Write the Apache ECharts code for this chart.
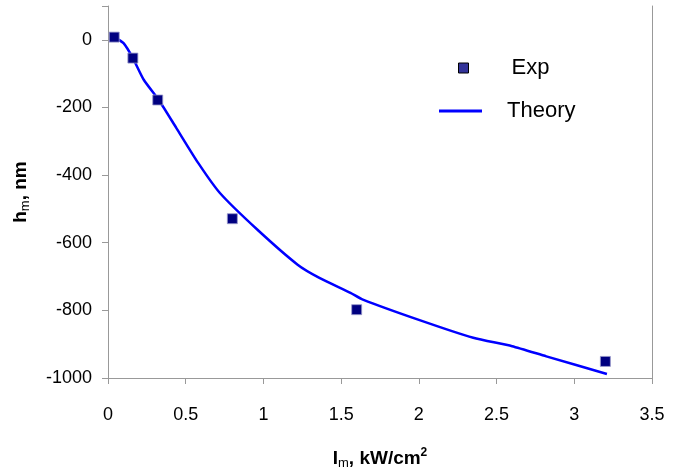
<!DOCTYPE html>
<html><head><meta charset="utf-8">
<script src="https://cdn.jsdelivr.net/npm/echarts@6/dist/echarts.min.js"></script>
<style>html,body{margin:0;padding:0;background:#fff}#c{width:685px;height:472px}</style>
</head><body><div id="c"></div>
<script>
const xTicks = [0, 0.5, 1, 1.5, 2, 2.5, 3, 3.5];
const yTicks = [-1000, -800, -600, -400, -200, 0];
const expX = [0.04, 0.16, 0.32, 0.80, 1.60, 3.20];
const expY = [8, -54, -178, -529, -798, -951];
const theoryX = [0.04, 0.10, 0.16, 0.23, 0.33, 0.44, 0.58, 0.72, 0.96, 1.22, 1.36, 1.56, 1.64, 2.00, 2.35, 2.60, 2.82, 3.21];
const theoryY = [8, -10, -54, -118, -180, -261, -364, -453, -561, -665, -704, -748, -768, -828, -881, -906, -936, -988];

const font = 'Liberation Sans, Arial, sans-serif';
const rich = {
  b: {fontFamily: font, fontSize: 19, fontWeight: 'bold', color: '#000', verticalAlign: 'middle', lineHeight: 24},
  s: {fontFamily: font, fontSize: 13, fontWeight: 'normal', color: '#000', verticalAlign: 'bottom', lineHeight: 24, padding: [0, 0, 1, 0]},
  p: {fontFamily: font, fontSize: 12, fontWeight: 'bold', color: '#000', verticalAlign: 'top', lineHeight: 24}
};
const chart = echarts.init(document.getElementById('c'), null, {renderer: 'canvas'});
chart.setOption({
  animation: false,
  backgroundColor: '#fff',
  grid: {left: 108, right: 33, top: 6, bottom: 94, outerBoundsMode: 'none', containLabel: false},
  legend: [
    {data: [{name: 'Exp', itemStyle: {color: '#333399', borderColor: '#000', borderWidth: 1}}],
     left: 453, top: 52, itemWidth: 10, itemHeight: 10, icon: 'rect',
     textStyle: {fontFamily: font, fontSize: 22, color: '#000', padding: [0, 0, 0, 38]}},
    {data: [{name: 'Theory', icon: 'path://M0,0 L43,0 L43,3 L0,3 Z', itemStyle: {color: '#0000ff'}}],
     left: 434, top: 95, itemWidth: 43, itemHeight: 3,
     textStyle: {fontFamily: font, fontSize: 22, color: '#000', padding: [0, 0, 0, 20]}}
  ],
  xAxis: {
    type: 'value', min: xTicks[0], max: xTicks[xTicks.length - 1], interval: 0.5,
    name: '{b|I}{s|m}{b|, kW/cm}{p|2}', nameLocation: 'middle', nameGap: 69,
    nameTextStyle: {rich: rich},
    axisLine: {onZero: false, lineStyle: {color: '#999', width: 1}},
    axisTick: {length: 6, lineStyle: {color: '#999'}},
    axisLabel: {fontFamily: font, fontSize: 18, color: '#000', margin: 28},
    splitLine: {show: false}
  },
  yAxis: [{
    type: 'value', min: yTicks[0], max: 100, interval: 200,
    name: '{b|h}{s|m}{b|, nm}', nameLocation: 'middle', nameGap: 75, nameRotate: 90,
    nameTextStyle: {rich: rich},
    axisLine: {show: true, onZero: false, lineStyle: {color: '#999', width: 1}},
    axisTick: {show: true, length: 6, lineStyle: {color: '#999'}},
    axisLabel: {fontFamily: font, fontSize: 18, color: '#000', margin: 16,
      formatter: v => (yTicks.indexOf(v) >= 0 ? String(v) : '')},
    splitLine: {show: false}
  }, {
    type: 'value', min: yTicks[0], max: 100, position: 'right',
    axisLine: {show: true, onZero: false, lineStyle: {color: '#999', width: 1}},
    axisTick: {show: false}, axisLabel: {show: false}, splitLine: {show: false}
  }],
  series: [
    {name: 'Theory', type: 'line', data: theoryX.map((x, i) => [x, theoryY[i]]),
     symbol: 'none', smooth: 0.2, lineStyle: {color: '#0000ff', width: 2.5}, itemStyle: {color: '#0000ff'}, z: 2},
    {name: 'Exp', type: 'scatter', data: expX.map((x, i) => [x, expY[i]]),
     symbol: 'rect', symbolSize: 10,
     itemStyle: {color: '#000080', borderColor: '#9999cc', borderWidth: 0.8, opacity: 1}, z: 3}
  ]
});
</script></body></html>
